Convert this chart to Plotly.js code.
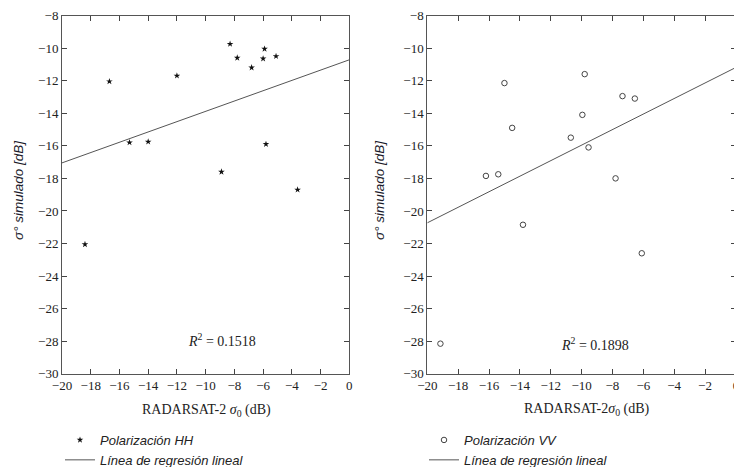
<!DOCTYPE html>
<html>
<head>
<meta charset="utf-8">
<script src="https://cdn.plot.ly/plotly-3.0.1.min.js"></script>
<style>
html, body { margin:0; padding:0; overflow:hidden; background:#fff; }
#chart { width:740px; height:467px; }
</style>
</head>
<body>
<div id="chart"></div>
<script>
// HH polarization (left panel)
var hhX = [-16.7, -15.3, -14.0, -12.0, -8.9, -8.3, -7.8, -6.8, -6.0, -5.9, -5.8, -5.1, -3.6, -18.4];
var hhY = [-12.05, -15.8, -15.75, -11.7, -17.6, -9.75, -10.6, -11.2, -10.65, -10.05, -15.9, -10.5, -18.7, -22.05];
var hhFit = { slope: 0.3165, intercept: -10.72 };
var hhR2 = 0.1518;

// VV polarization (right panel)
var vvX = [-16.2, -15.4, -15.0, -14.5, -13.8, -10.7, -9.95, -9.8, -9.55, -7.8, -7.35, -6.55, -6.1, -19.15];
var vvY = [-17.85, -17.75, -12.15, -14.9, -20.85, -15.5, -14.1, -11.6, -16.1, -18.0, -12.95, -13.1, -22.6, -28.15];
var vvFit = { slope: 0.477, intercept: -11.19 };
var vvR2 = 0.1898;

var fitRange = [-20, 0];
function fitLine(f) { return fitRange.map(function (x) { return f.intercept + f.slope * x; }); }

var xTicks = [-20, -18, -16, -14, -12, -10, -8, -6, -4, -2, 0];
var yTicks = [-8, -10, -12, -14, -16, -18, -20, -22, -24, -26, -28, -30];

var W = 740, H = 467;
var legendFont = { family: 'Liberation Sans, Arial, sans-serif', size: 13, color: '#222', style: 'italic' };

var traces = [
  { x: hhX, y: hhY, type: 'scatter', mode: 'markers', name: 'Polarización HH',
    marker: { symbol: 'star', size: 5, color: '#111' }, xaxis: 'x', yaxis: 'y', legend: 'legend' },
  { x: fitRange, y: fitLine(hhFit), type: 'scatter', mode: 'lines', name: 'Línea de regresión lineal',
    line: { color: '#555', width: 1 }, xaxis: 'x', yaxis: 'y', legend: 'legend' },
  { x: vvX, y: vvY, type: 'scatter', mode: 'markers', name: 'Polarización VV',
    marker: { symbol: 'circle-open', size: 5.5, color: '#444', line: { width: 1 } }, xaxis: 'x2', yaxis: 'y2', legend: 'legend2' },
  { x: fitRange, y: fitLine(vvFit), type: 'scatter', mode: 'lines', name: 'Línea de regresión lineal',
    line: { color: '#555', width: 1 }, xaxis: 'x2', yaxis: 'y2', legend: 'legend2' }
];

function xAx(domain, anchor) {
  return {
    domain: domain, anchor: anchor, range: [-20, 0], tickvals: xTicks,
    ticks: 'inside', ticklen: 5, tickcolor: '#444', tickwidth: 1,
    showline: true, linecolor: '#555', linewidth: 1, mirror: 'ticks',
    showgrid: false, zeroline: false, automargin: false,
    tickfont: { family: 'Liberation Serif, Times New Roman, serif', size: 13, color: '#222' }
  };
}
function yAx(domain, anchor) {
  return {
    domain: domain, anchor: anchor, range: [-30, -8], tickvals: yTicks,
    ticks: 'inside', ticklen: 5, tickcolor: '#444', tickwidth: 1,
    showline: true, linecolor: '#555', linewidth: 1, mirror: 'ticks',
    showgrid: false, zeroline: false, automargin: false,
    tickfont: { family: 'Liberation Serif, Times New Roman, serif', size: 13, color: '#222' }
  };
}
var yDom = [1 - 373.8 / H, 1 - 15.5 / H];

var titleFontX = { family: 'Liberation Serif, Times New Roman, serif', size: 14, color: '#222' };
var titleFontY = { family: 'Liberation Sans, Arial, sans-serif', size: 13.5, color: '#1a1a2a', style: 'italic' };

var layout = {
  width: W, height: H,
  margin: { l: 0, r: 0, t: 0, b: 0, autoexpand: false },
  paper_bgcolor: '#fff', plot_bgcolor: '#fff',
  showlegend: true,
  xaxis: xAx([62 / W, 349.3 / W], 'y'),
  yaxis: yAx(yDom, 'x'),
  xaxis2: xAx([427.3 / W, 735.9 / W], 'y2'),
  yaxis2: yAx(yDom, 'x2'),
  legend: { x: 60 / W, xanchor: 'left', y: 1 - 425 / H, yanchor: 'top', font: legendFont,
            bgcolor: 'rgba(0,0,0,0)', borderwidth: 0, tracegroupgap: 0 },
  legend2: { x: 424 / W, xanchor: 'left', y: 1 - 425 / H, yanchor: 'top', font: legendFont,
             bgcolor: 'rgba(0,0,0,0)', borderwidth: 0, tracegroupgap: 0 },
  annotations: [
    { xref: 'paper', yref: 'paper', x: 207 / W, y: 1 - 410 / H, xanchor: 'center', yanchor: 'middle',
      text: 'RADARSAT-2 <i>σ</i><sub>0</sub> (dB)', showarrow: false, font: titleFontX },
    { xref: 'paper', yref: 'paper', x: 587 / W, y: 1 - 409 / H, xanchor: 'center', yanchor: 'middle',
      text: 'RADARSAT-2<i>σ</i><sub>0</sub> (dB)', showarrow: false, font: titleFontX },
    { xref: 'paper', yref: 'paper', x: 19 / W, y: 1 - 190 / H, xanchor: 'center', yanchor: 'middle',
      textangle: -90, text: 'σ° simulado [dB]', showarrow: false, font: titleFontY },
    { xref: 'paper', yref: 'paper', x: 380 / W, y: 1 - 190 / H, xanchor: 'center', yanchor: 'middle',
      textangle: -90, text: 'σ° simulado [dB]', showarrow: false, font: titleFontY },
    { xref: 'x', yref: 'y', x: -8.86, y: -27.95, xanchor: 'center', yanchor: 'middle',
      text: '<i>R</i><sup>2</sup> = ' + hhR2.toFixed(4), showarrow: false,
      font: { family: 'Liberation Serif, Times New Roman, serif', size: 14, color: '#222' } },
    { xref: 'x2', yref: 'y2', x: -9.13, y: -28.2, xanchor: 'center', yanchor: 'middle',
      text: '<i>R</i><sup>2</sup> = ' + vvR2.toFixed(4), showarrow: false,
      font: { family: 'Liberation Serif, Times New Roman, serif', size: 14, color: '#222' } }
  ]
};

Plotly.newPlot('chart', traces, layout, { displayModeBar: false, staticPlot: true });
</script>
</body>
</html>
